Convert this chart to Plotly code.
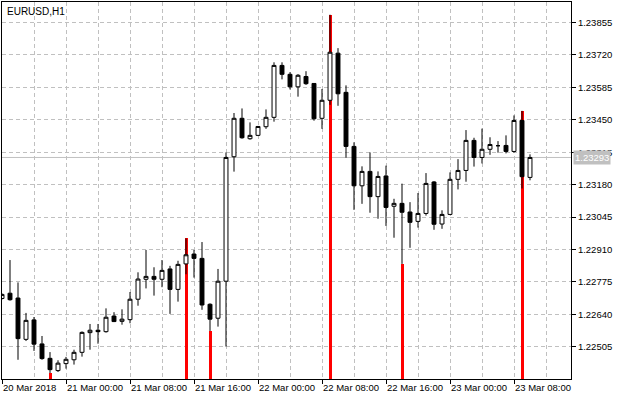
import pandas as pd
import plotly.graph_objects as go

# ---- data (EURUSD H1) ----
start_time = "2018-03-20 16:00"
times = pd.date_range(start_time, periods=67, freq="h")

opens = [1.22706, 1.22728, 1.22708, 1.22536, 1.22617, 1.22517, 1.22457, 1.22406, 1.22435, 1.22451,
         1.22482, 1.22564, 1.22574, 1.22568, 1.22633, 1.22611, 1.22618, 1.22703, 1.22786, 1.22798,
         1.22786, 1.22829, 1.22744, 1.22850, 1.22891, 1.22873, 1.22682, 1.22624, 1.22778, 1.23296,
         1.23456, 1.23371, 1.23385, 1.23421, 1.23460, 1.23676, 1.23639, 1.23587, 1.23630, 1.23601,
         1.23456, 1.23531, 1.23727, 1.23564, 1.23339, 1.23175, 1.23235, 1.23130, 1.23216, 1.23090,
         1.23102, 1.23066, 1.23027, 1.23060, 1.23191, 1.23016, 1.23056, 1.23202, 1.23239, 1.23364,
         1.23293, 1.23327, 1.23342, 1.23343, 1.23318, 1.23447, 1.23210]
highs = [1.22727, 1.22866, 1.22773, 1.22646, 1.22629, 1.22550, 1.22483, 1.22449, 1.22463, 1.22493,
         1.22569, 1.22600, 1.22600, 1.22665, 1.22649, 1.22661, 1.22733, 1.22815, 1.22908, 1.22836,
         1.22866, 1.22842, 1.22863, 1.22956, 1.22908, 1.22941, 1.22686, 1.22829, 1.23314, 1.23478,
         1.23497, 1.23439, 1.23424, 1.23493, 1.23689, 1.23689, 1.23648, 1.23640, 1.23652, 1.23601,
         1.23578, 1.23887, 1.23748, 1.23593, 1.23356, 1.23256, 1.23314, 1.23235, 1.23259, 1.23121,
         1.23184, 1.23107, 1.23145, 1.23228, 1.23195, 1.23073, 1.23231, 1.23286, 1.23407, 1.23375,
         1.23413, 1.23377, 1.23361, 1.23385, 1.23468, 1.23487, 1.23306]
lows = [1.22702, 1.22697, 1.22451, 1.22529, 1.22488, 1.22451, 1.22396, 1.22400, 1.22414, 1.22431,
        1.22464, 1.22493, 1.22518, 1.22564, 1.22608, 1.22597, 1.22603, 1.22676, 1.22748, 1.22718,
        1.22753, 1.22642, 1.22693, 1.22807, 1.22793, 1.22659, 1.22571, 1.22589, 1.22506, 1.23234,
        1.23371, 1.23367, 1.23382, 1.23412, 1.23442, 1.23618, 1.23576, 1.23546, 1.23595, 1.23446,
        1.23412, 1.23512, 1.23508, 1.23292, 1.23075, 1.23100, 1.23063, 1.23038, 1.23008, 1.22959,
        1.22850, 1.22917, 1.23001, 1.23051, 1.22992, 1.22996, 1.23053, 1.23160, 1.23192, 1.23255,
        1.23268, 1.23304, 1.23313, 1.23310, 1.23313, 1.23164, 1.23198]
closes = [1.22723, 1.22701, 1.22539, 1.22615, 1.22516, 1.22456, 1.22410, 1.22437, 1.22453, 1.22482,
          1.22565, 1.22574, 1.22568, 1.22628, 1.22610, 1.22620, 1.22703, 1.22787, 1.22798, 1.22786,
          1.22823, 1.22744, 1.22848, 1.22888, 1.22873, 1.22679, 1.22620, 1.22778, 1.23293, 1.23456,
          1.23375, 1.23385, 1.23422, 1.23460, 1.23676, 1.23639, 1.23587, 1.23635, 1.23600, 1.23454,
          1.23531, 1.23731, 1.23558, 1.23339, 1.23175, 1.23235, 1.23130, 1.23214, 1.23085, 1.23102,
          1.23065, 1.23023, 1.23060, 1.23185, 1.23015, 1.23056, 1.23202, 1.23239, 1.23364, 1.23293,
          1.23327, 1.23347, 1.23342, 1.23318, 1.23447, 1.23213, 1.23293]

# red histogram indicator (bars from the bottom)
red_times = ["2018-03-20 22:00", "2018-03-21 15:00", "2018-03-21 18:00",
             "2018-03-22 09:00", "2018-03-22 18:00", "2018-03-23 09:00"]
red_values = [1.22396, 1.22956, 1.22571, 1.23887, 1.22850, 1.23487]

current_price = 1.23293
symbol_label = "EURUSD,H1"

price_ticks = [1.22505, 1.22640, 1.22775, 1.22910, 1.23045, 1.23180,
               1.23315, 1.23450, 1.23585, 1.23720, 1.23855]
time_tick_vals = ["2018-03-20 16:00", "2018-03-21 00:00", "2018-03-21 08:00",
                  "2018-03-21 16:00", "2018-03-22 00:00", "2018-03-22 08:00",
                  "2018-03-22 16:00", "2018-03-23 00:00", "2018-03-23 08:00"]
time_tick_text = ["20 Mar 2018", "21 Mar 00:00", "21 Mar 08:00", "21 Mar 16:00",
                  "22 Mar 00:00", "22 Mar 08:00", "22 Mar 16:00", "23 Mar 00:00",
                  "23 Mar 08:00"]

x_range = ["2018-03-20 16:00", "2018-03-23 15:07:30"]
y_range = [1.22371, 1.23940]

FONT = "Liberation Sans, Arial, sans-serif"
GRID = "#c0c0c0"
HOUR_MS = 3600 * 1000

fig = go.Figure()

fig.add_trace(go.Bar(
    x=pd.to_datetime(red_times), y=red_values, base=0,
    width=0.375 * HOUR_MS, marker=dict(color="#ff0000", line=dict(width=0)),
    hoverinfo="skip", showlegend=False,
))

fig.add_trace(go.Candlestick(
    x=times, open=opens, high=highs, low=lows, close=closes,
    increasing=dict(line=dict(color="black", width=1), fillcolor="white"),
    decreasing=dict(line=dict(color="black", width=1), fillcolor="black"),
    whiskerwidth=0, showlegend=False,
))

fig.add_shape(type="line", xref="paper", x0=0, x1=1, yref="y",
              y0=current_price, y1=current_price,
              line=dict(color=GRID, width=1), layer="below")

fig.add_annotation(xref="paper", x=1, xanchor="left", xshift=2,
                   yref="y", y=current_price, yanchor="middle",
                   text=f"{current_price:.5f}", showarrow=False,
                   bgcolor=GRID, borderpad=1,
                   font=dict(family=FONT, size=9.5, color="white"))

fig.add_annotation(xref="paper", x=0, xanchor="left", xshift=3,
                   yref="paper", y=1, yanchor="top", yshift=-2,
                   text=symbol_label, showarrow=False,
                   font=dict(family=FONT, size=10, color="black"))

fig.update_layout(
    width=624, height=400,
    margin=dict(l=2, r=53, t=2, b=21, autoexpand=False),
    paper_bgcolor="white", plot_bgcolor="white",
    font=dict(family=FONT, size=9.5, color="black"),
    showlegend=False, bargap=0,
    xaxis=dict(
        type="date", range=x_range, rangeslider=dict(visible=False),
        tickmode="array", tickvals=time_tick_vals, ticktext=time_tick_text,
        ticks="outside", ticklen=4, tickcolor="black", tickangle=0,
        ticklabelposition="outside right", automargin=False,
        showgrid=True, gridcolor=GRID, griddash="4px,3px", gridwidth=1,
        minor=dict(dtick=4 * HOUR_MS, tick0="2018-03-20 16:00", showgrid=True,
                   gridcolor=GRID, griddash="4px,3px", ticks=""),
        showline=True, linecolor="black", linewidth=1, mirror=True,
        zeroline=False, fixedrange=True,
    ),
    yaxis=dict(
        side="right", range=y_range, tickmode="array", tickvals=price_ticks,
        tickformat=".5f", ticks="outside", ticklen=4, tickcolor="black",
        automargin=False,
        showgrid=True, gridcolor=GRID, griddash="4px,3px", gridwidth=1,
        showline=True, linecolor="black", linewidth=1, mirror=True,
        zeroline=False, fixedrange=True,
    ),
)

fig.write_html(
    "out.html",
    config={"displayModeBar": False},
    post_script="document.body.style.margin='0';document.body.style.padding='0';",
)
